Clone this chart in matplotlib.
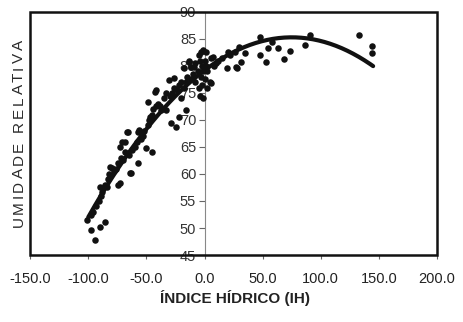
import numpy as np
import matplotlib.pyplot as plt
from matplotlib.patches import Rectangle
from matplotlib.textpath import TextToPath
from matplotlib.font_manager import FontProperties

plt.rcParams['font.family'] = ['Liberation Sans', 'DejaVu Sans']

# indice hidrico (IH) e umidade relativa
ih = [-101, -98, -98, -94, -90, -86, -96, -93, -91, -89, -88, -90, -86, -84, -83, -81, -79.6, -82,
      -78, -76, -74.5, -73, -74, -72, -70, -73, -71, -68.6, -67, -66, -68, -65, -64, -63.5, -62, -60,
      -57.6, -57.6, -56, -58, -55, -53, -52, -50, -45, -49, -48, -47, -49, -45, -43, -44, -42, -41.5,
      -40, -38, -37, -35, -33, -33, -30.5, -30, -29, -28, -26, -26, -24.6, -24, -22, -22, -20, -20,
      -18, -18, -16, -16, -15, -13.5, -13.5, -12, -12, -10, -9.3, -8, -8, -6, -5, -5, -4, -4, -3, -3,
      -2, -2, -1, -1, 0, 0, -1, 1, 1, 2, 2,
      5, 6, 6, 7.6, 8, 10, 12, 15, 19.5, 20, 22, 26, 27, 28, 31, 35, 30,
      47.4, 48, 52.5, 55, 58, 63.5, 68.6, 73.7, 86.4, 90.6, 133, 144, 144]
ur = [51.5, 52.5, 49.7, 47.8, 50.2, 51.2, 53, 54, 55, 56, 56.7, 57.5, 58, 57.5, 59, 61.3, 61.1, 60,
      60.5, 61, 58, 58.4, 62, 63, 62.5, 65, 66, 66, 67.8, 67.8, 64, 63.5, 60.2, 60.2, 64.5, 65,
      62, 67.8, 68.2, 66, 66.5, 67, 68, 64.8, 64, 69, 70, 70.5, 73.4, 71, 75.2, 72, 72.5, 75.6,
      73, 72.5, 71.9, 74, 71.9, 75, 77.4, 74.5, 69.5, 75, 77.8, 76, 68.7, 75.5, 70.6, 76.5, 77, 74,
      79.6, 76, 71.9, 77, 78, 81, 80.7, 79.8, 77.5, 78.5, 79.8, 77, 80.5, 79, 82, 76, 81, 74.5, 82.6, 78,
      80, 76.5, 83, 79, 81, 77.5, 74, 80, 82.5, 79, 76,
      77, 76.9, 81.5, 81.7, 80, 80.5, 81, 81.5, 79.6, 82.5, 82, 82.6, 79.8, 79.6, 80.7, 82.4, 83.5,
      85.4, 82, 80.7, 83.3, 84.5, 83.3, 81.3, 82.8, 83.9, 85.7, 85.7, 83.7, 82.4]

# linha de tendencia (polinomio de 2o grau)
trend_coef = [-0.001087, 0.16305, 79.18]
trend_range = [-100, 145]

xticks = [-150, -100, -50, 0, 50, 100, 150, 200]
yticks = [45, 50, 55, 60, 65, 70, 75, 80, 85, 90]

ylabel = 'UMIDADE RELATIVA'

fig = plt.figure(figsize=(4.63, 3.22), dpi=100)
ax = fig.add_axes([0.065, 0.208, 0.879, 0.755])

ax.scatter(ih, ur, s=22, color='#111111', zorder=3, linewidths=0)
xt = np.linspace(trend_range[0], trend_range[1], 200)
ax.plot(xt, np.polyval(trend_coef, xt), color='#111111', lw=3, zorder=4,
        solid_capstyle='round')

ax.set_xlim(-150, 200)
ax.set_ylim(45, 90)

for s in ['top', 'right', 'bottom']:
    ax.spines[s].set_visible(False)
ax.spines['left'].set_position(('data', 0))
ax.spines['left'].set_color('#888888')
ax.spines['left'].set_linewidth(0.8)

ax.add_patch(Rectangle((0, 0), 1, 1, transform=ax.transAxes, fill=False,
                       lw=1.8, edgecolor='#111111', clip_on=False, zorder=5))

ax.set_xticks(xticks)
ax.set_xticklabels(['%.1f' % v for v in xticks])
ax.set_yticks(yticks)
ax.tick_params(axis='x', direction='out', length=3, color='#666666', pad=9,
               labelsize=10.5, labelcolor='#222222')
ax.tick_params(axis='y', direction='out', length=4, color='#666666', pad=2,
               labelsize=10.5, labelcolor='#333333')

# rotulo do eixo y com espacamento entre letras
fs = 11
prop = FontProperties(family='Liberation Sans', size=fs)
ttp = TextToPath()
widths = [ttp.get_text_width_height_descent(c, prop, ismath=False)[0] * 100 / 72 for c in ylabel]
gap = 2.6
total = sum(widths) + gap * (len(ylabel) - 1)
pos = 322 * 0.585 - total / 2
for c, w in zip(ylabel, widths):
    fig.text(19 / 463, pos / 322, c, rotation=90, ha='center', va='bottom',
             fontproperties=prop, color='#2a2a2a')
    pos += w + gap

fig.text(0.508, 0.075, 'ÍNDICE HÍDRICO (IH)', ha='center', va='center',
         fontsize=11, fontweight='bold', color='#222222')

fig.savefig('out.png', dpi=100)
